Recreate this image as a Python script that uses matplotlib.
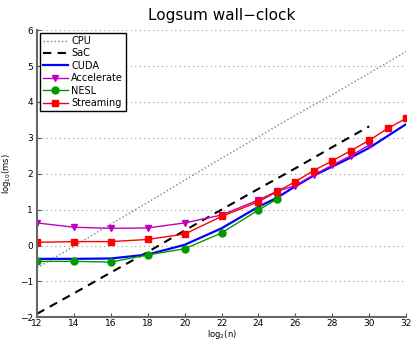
import matplotlib
matplotlib.use("Agg")
import matplotlib.pyplot as plt

# ---------- data ----------
cpu_x = [12, 14, 16, 18, 20, 22, 24, 26, 28, 30, 32]
cpu_y = [-0.62, -0.02, 0.6, 1.2, 1.82, 2.43, 3.03, 3.63, 4.2, 4.8, 5.4]

sac_x = [12, 14, 16, 18, 20, 22, 24, 26, 28, 30]
sac_y = [-1.9, -1.33, -0.75, -0.18, 0.42, 1.0, 1.58, 2.15, 2.74, 3.32]

cuda_x = [12, 14, 16, 18, 20, 22, 24, 25, 26, 27, 28, 29, 30, 31, 32]
cuda_y = [-0.37, -0.37, -0.36, -0.25, 0.02, 0.48, 1.08, 1.33, 1.65, 1.95,
          2.2, 2.45, 2.72, 3.05, 3.38]

acc_x = [12, 14, 16, 18, 20, 22, 24, 25, 26, 27, 28, 29, 30]
acc_y = [0.63, 0.51, 0.48, 0.49, 0.63, 0.85, 1.27, 1.51, 1.67, 1.97, 2.24, 2.5, 2.8]

nesl_x = [12, 14, 16, 18, 20, 22, 24, 25]
nesl_y = [-0.44, -0.44, -0.46, -0.26, -0.09, 0.35, 0.99, 1.29]

str_x = [12, 14, 16, 18, 20, 22, 24, 25, 26, 27, 28, 29, 30, 31, 32]
str_y = [0.09, 0.11, 0.11, 0.17, 0.32, 0.81, 1.22, 1.5, 1.78, 2.09, 2.36,
         2.64, 2.93, 3.26, 3.54]

# ---------- figure ----------
fig = plt.figure(figsize=(4.11, 3.42), dpi=100)
ax = fig.add_axes([0.090, 0.072, 0.898, 0.840])

ax.plot(cpu_x, cpu_y, color='gray', linestyle=':', linewidth=1, label='CPU')
ax.plot(sac_x, sac_y, color='black', linestyle=(0, (4, 3)), linewidth=1.5, label='SaC')
ax.plot(cuda_x, cuda_y, color='blue', linewidth=1.6, label='CUDA')
ax.plot(acc_x, acc_y, color='m', linewidth=1, marker='v', markersize=5, label='Accelerate')
ax.plot(nesl_x, nesl_y, color='#009900', linewidth=1, marker='o', markersize=5, label='NESL')
ax.plot(str_x, str_y, color='red', linewidth=1, marker='s', markersize=4.5, label='Streaming')

ax.set_xlim(12, 32)
ax.set_ylim(-2, 6)
ax.set_xticks(range(12, 33, 2))
ax.set_yticks(range(-2, 7))
ax.tick_params(direction='in', labelsize=6.5, length=3, color='#555555')
ax.tick_params(axis='x', pad=1.5)
ax.tick_params(axis='y', pad=3)
ax.yaxis.grid(True, linestyle=(0, (1, 3)), color='#999999', linewidth=0.8)

for s in ['top', 'right']:
    ax.spines[s].set_visible(False)
for s in ['left', 'bottom']:
    ax.spines[s].set_color('#666666')
    ax.spines[s].set_linewidth(1.5)

ax.set_title("Logsum wall\u2212clock", fontsize=11, pad=7)
ax.set_xlabel("log$_2$(n)", fontsize=6, labelpad=0)
ax.set_ylabel("log$_{10}$(ms)", fontsize=6, labelpad=5)

leg = ax.legend(loc='upper left', fontsize=7, fancybox=False, framealpha=1,
                edgecolor='black', handlelength=2.6, borderpad=0.3,
                labelspacing=0.25, handletextpad=0.3, borderaxespad=0.3)
leg.get_frame().set_linewidth(1)

fig.savefig("out.png", dpi=100)
